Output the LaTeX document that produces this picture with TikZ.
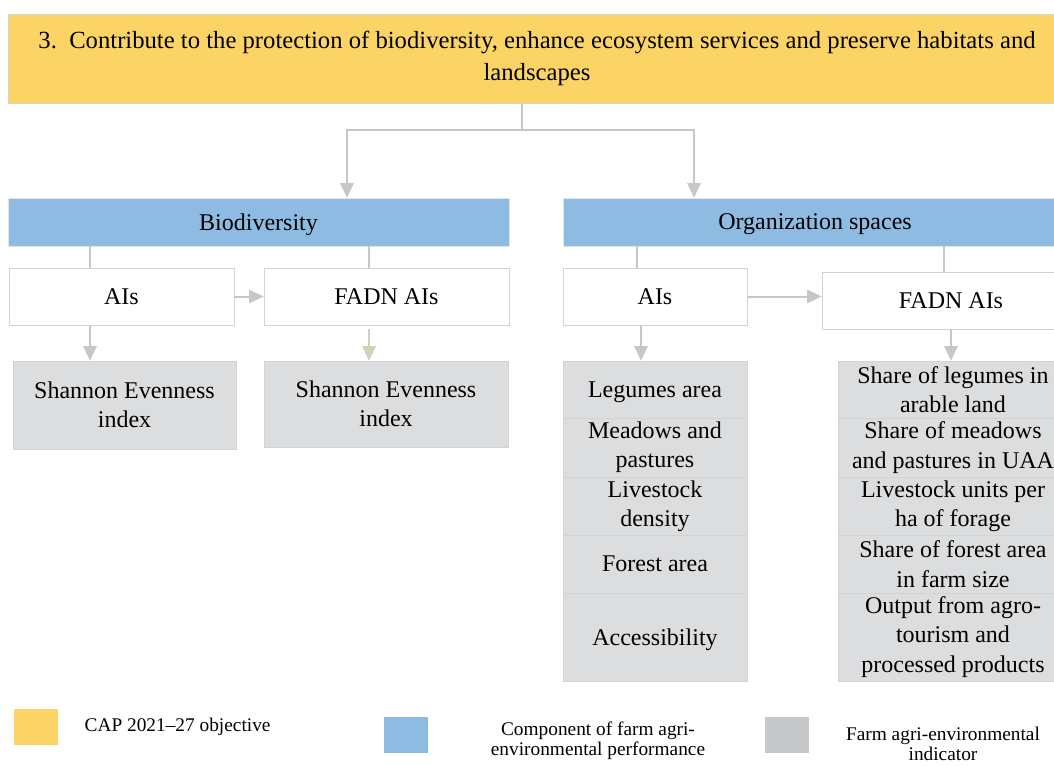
\documentclass[tikz,border=0pt]{standalone}
\usepackage{fontspec}
\setmainfont{Liberation Serif}
\usetikzlibrary{arrows.meta}
\definecolor{capyellow}{HTML}{FCD466}
\definecolor{compblue}{HTML}{8EBBE1}
\definecolor{indgray}{HTML}{DCDDDF}
\definecolor{keygray}{HTML}{C7C8CA}
\definecolor{edgegray}{HTML}{D2D3D5}
\definecolor{arrowgray}{HTML}{C6C7C9}
\definecolor{arrowkhaki}{HTML}{D3D1B9}
\begin{document}
\begin{tikzpicture}[x=0.75pt, y=-0.75pt,
        objective/.style={draw=edgegray, fill=capyellow, align=center, inner sep=0pt, font=\fontsize{18.5}{24}\selectfont},
        component/.style={draw=edgegray!60, fill=compblue, inner sep=0pt, text depth=0pt, font=\fontsize{18}{22}\selectfont},
        source/.style={draw=edgegray, fill=white, inner sep=0pt, text depth=0pt, font=\fontsize{18}{22}\selectfont},
        indicator/.style={draw=edgegray, fill=indgray, align=center, inner sep=0pt, font=\fontsize{18}{22}\selectfont},
        link/.style={draw=arrowgray, line width=1.5pt},
        flow/.style={link, -{Triangle[width=10pt, length=11pt]}},
        keybox/.style={draw=none, inner sep=0pt, minimum width=33pt, minimum height=27pt},
        keytext/.style={align=center, font=\fontsize{14.5}{15}\selectfont}
    ]
        \useasboundingbox (0,0) rectangle (1054,765);

        % Objectif PAC
        \node[objective, minimum width=793.5pt, minimum height=66.75pt] (obj) at (537,58.5)
            {3.\ \ Contribute to the protection of biodiversity, enhance ecosystem services and preserve habitats and\\landscapes};

        % Composantes
        \node[component, minimum width=375.75pt, minimum height=36pt] (bio) at (258.5,222) {Biodiversity};
        \node[component, minimum width=378pt, minimum height=36pt] (org) at (815,222) {Organization spaces};

        % Sources des indicateurs
        \node[source, minimum width=168.75pt, minimum height=42.75pt] (bioai) at (121.5,296.5) {AIs};
        \node[source, minimum width=183.75pt, minimum height=42.75pt] (biofadn) at (386.5,296.5) {FADN AIs};
        \node[source, minimum width=138pt, minimum height=42.75pt] (orgai) at (655,296.5) {AIs};
        \node[source, minimum width=193.5pt, minimum height=42.75pt] (orgfadn) at (951,300.5) {FADN AIs};

        % Indicateurs biodiversite
        \node[indicator, minimum width=167.25pt, minimum height=66pt] (bioind1) at (124.5,405) {Shannon Evenness\\index};
        \node[indicator, minimum width=183pt, minimum height=64.5pt] (bioind2) at (386,404) {Shannon Evenness\\index};

        % Indicateurs espaces (AIs)
        \node[indicator, text depth=0pt, minimum width=138pt, minimum height=42.75pt] (orgai1) at (655,389.5) {Legumes area};
        \node[indicator, minimum width=138pt, minimum height=44.25pt] (orgai2) at (655,447.5) {Meadows and\\pastures};
        \node[indicator, minimum width=138pt, minimum height=43.5pt] (orgai3) at (655,506) {Livestock\\density};
        \node[indicator, text depth=0pt, minimum width=138pt, minimum height=43.5pt] (orgai4) at (655,564) {Forest area};
        \node[indicator, text depth=0pt, minimum width=138pt, minimum height=66pt] (orgai5) at (655,637) {Accessibility};

        % Indicateurs espaces (FADN)
        \node[indicator, minimum width=172.5pt, minimum height=42.75pt] (orgfadn1) at (953,389.5) {Share of legumes in\\arable land};
        \node[indicator, minimum width=172.5pt, minimum height=44.25pt] (orgfadn2) at (953,447.5) {Share of meadows\\and pastures in UAA};
        \node[indicator, minimum width=172.5pt, minimum height=43.5pt] (orgfadn3) at (953,506) {Livestock units per\\ha of forage};
        \node[indicator, minimum width=172.5pt, minimum height=43.5pt] (orgfadn4) at (953,564) {Share of forest area\\in farm size};
        \node[indicator, minimum width=172.5pt, minimum height=66pt] (orgfadn5) at (953,637) {Output from agro-\\tourism and\\processed products};

        % Points de passage des liens
        \coordinate (split) at (522,130);
        \coordinate (bioin) at (347,0);
        \coordinate (orgin) at (694,0);
        \coordinate (bl) at (90,0);
        \coordinate (br) at (369,0);
        \coordinate (ol) at (637,0);
        \coordinate (ola) at (641,0);
        \coordinate (or) at (944,0);
        \coordinate (ora) at (951,0);

        % Objectif vers composantes
        \draw[link] (obj.south -| split) -- (split);
        \draw[flow] (split) -| (bio.north -| bioin);
        \draw[flow] (split) -| (org.north -| orgin);

        % Composantes vers sources
        \draw[link] (bio.south -| bl) -- (bioai.north -| bl);
        \draw[link] (bio.south -| br) -- (biofadn.north -| br);
        \draw[link] (org.south -| ol) -- (orgai.north -| ol);
        \draw[link] (org.south -| or) -- (orgfadn.north -| or);

        % Sources vers indicateurs
        \draw[flow] (bioai.east) -- (biofadn.west);
        \draw[flow] (bioai.south -| bl) -- (bioind1.north -| bl);
        \draw[flow, draw=arrowkhaki, shorten <=3pt] (biofadn.south -| br) -- (bioind2.north -| br);
        \draw[flow] (orgai.east) -- (orgfadn.west |- orgai.east);
        \draw[flow] (orgai.south -| ola) -- (orgai1.north -| ola);
        \draw[flow] (orgfadn.south -| ora) -- (orgfadn1.north -| ora);

        % Legende
        \node[keybox, fill=capyellow] (keyobj) at (36,727) {};
        \node[keytext, anchor=west] (keyobjtext) at (80,727) {CAP 2021--27 objective};
        \node[keybox, fill=compblue] (keycomp) at (405.5,734.5) {};
        \node[keytext] (keycomptext) at (598,741) {Component of farm agri-\\environmental performance};
        \node[keybox, fill=keygray] (keyind) at (787,734.5) {};
        \node[keytext] (keyindtext) at (943,744) {Farm agri-environmental\\indicator};
    \end{tikzpicture}
\end{document}
